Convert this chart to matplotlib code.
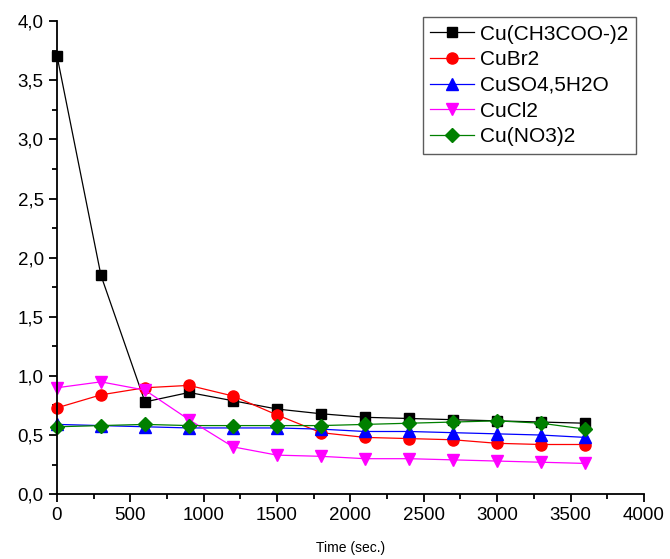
import matplotlib
matplotlib.use("Agg")
import matplotlib.pyplot as plt
from matplotlib.ticker import MultipleLocator, FuncFormatter

plt.rcParams['font.family'] = ['Liberation Sans', 'DejaVu Sans']

time = [0, 300, 600, 900, 1200, 1500, 1800, 2100, 2400, 2700, 3000, 3300, 3600]
cu_acetate = [3.71, 1.85, 0.78, 0.86, 0.79, 0.72, 0.68, 0.65, 0.64, 0.63, 0.62, 0.61, 0.60]
cu_br2 = [0.73, 0.84, 0.90, 0.92, 0.83, 0.67, 0.52, 0.48, 0.47, 0.46, 0.43, 0.42, 0.42]
cu_so4 = [0.59, 0.58, 0.57, 0.56, 0.56, 0.56, 0.55, 0.53, 0.53, 0.52, 0.51, 0.50, 0.48]
cu_cl2 = [0.90, 0.95, 0.88, 0.63, 0.40, 0.33, 0.32, 0.30, 0.30, 0.29, 0.28, 0.27, 0.26]
cu_no3 = [0.57, 0.58, 0.59, 0.58, 0.58, 0.58, 0.58, 0.59, 0.60, 0.61, 0.62, 0.60, 0.55]

labels = ['Cu(CH3COO-)2', 'CuBr2', 'CuSO4,5H2O', 'CuCl2', 'Cu(NO3)2']
series = [cu_acetate, cu_br2, cu_so4, cu_cl2, cu_no3]
colors = ['black', 'red', 'blue', 'magenta', 'green']
markers = ['s', 'o', '^', 'v', 'D']
msizes = [7, 8, 8, 8, 7]

fig = plt.figure(figsize=(6.7, 5.59), dpi=100)
ax = fig.add_axes([0.085, 0.116, 0.876, 0.846])

for y, lab, c, m, ms in zip(series, labels, colors, markers, msizes):
    ax.plot(time, y, color=c, marker=m, markersize=ms, linewidth=0.9,
            label=lab, clip_on=False)

ax.set_xlim(0, 4000)
ax.set_ylim(0, 4.0)
ax.xaxis.set_major_locator(MultipleLocator(500))
ax.xaxis.set_minor_locator(MultipleLocator(250))
ax.yaxis.set_major_locator(MultipleLocator(0.5))
ax.yaxis.set_minor_locator(MultipleLocator(0.25))
ax.yaxis.set_major_formatter(FuncFormatter(lambda v, p: f"{v:.1f}".replace('.', ',')))

for s in ['top', 'right']:
    ax.spines[s].set_visible(False)
for s in ['left', 'bottom']:
    ax.spines[s].set_linewidth(1.3)

ax.tick_params(which='major', direction='out', length=6, width=1.3, labelsize=13.5)
ax.tick_params(which='minor', direction='out', length=3.5, width=1.3)

ax.set_xlabel('Time (sec.)', fontsize=10, labelpad=12)

leg = ax.legend(loc='upper right', bbox_to_anchor=(0.993, 1.017), fontsize=15,
                frameon=True, fancybox=False, edgecolor='#333333',
                handlelength=2.1, borderpad=0.35, labelspacing=0.32,
                handletextpad=0.3, borderaxespad=0.2)
leg.get_frame().set_linewidth(1.0)

fig.savefig('out.png', dpi=100)
